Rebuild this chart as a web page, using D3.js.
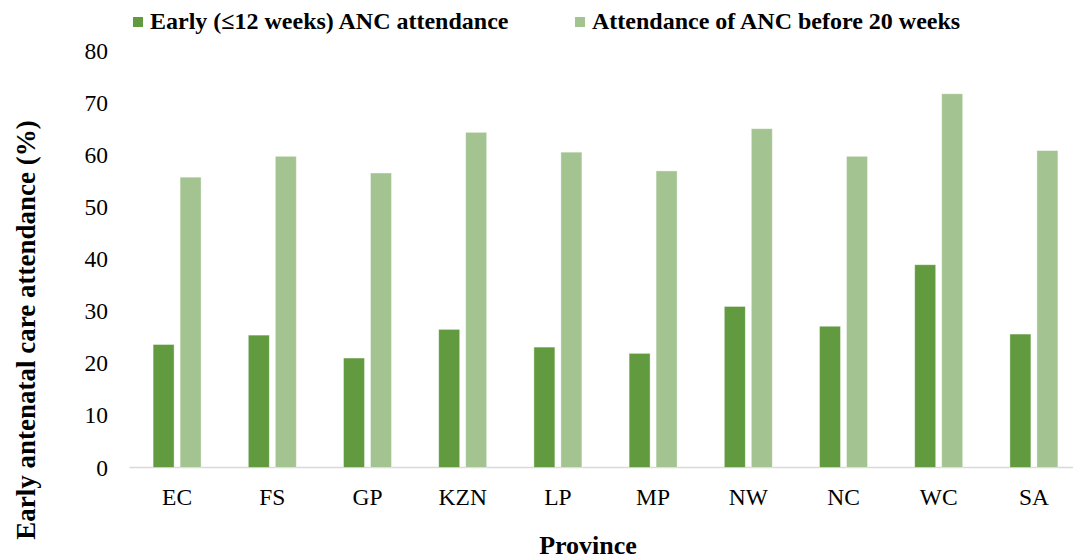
<!DOCTYPE html>
<html><head><meta charset="utf-8">
<script src="https://cdn.jsdelivr.net/npm/d3@7"></script>
<style>
body{margin:0;background:#fff;}
svg{display:block;font-family:"Liberation Serif","Times New Roman",serif;}
</style></head>
<body><svg id="c" width="1073" height="560"></svg>
<script>
const categories = ["EC","FS","GP","KZN","LP","MP","NW","NC","WC","SA"];
const seriesNames = ["Early (\u226412 weeks) ANC attendance","Attendance of ANC before 20 weeks"];
const early = [23.6,25.4,21.0,26.5,23.1,21.9,30.9,27.1,38.9,25.6];
const before20 = [55.7,59.7,56.5,64.3,60.5,56.9,65.0,59.7,71.7,60.8];
const yTicks = [0,10,20,30,40,50,60,70,80];
const colors = ["#629a3f","#a3c490"];

const svg = d3.select("#c");
const y = d3.scaleLinear().domain([0,80]).range([467.5,50.5]);
const x0 = d3.scaleBand().domain(categories).range([129.5,1081.5]);
const x1 = d3.scaleBand().domain([0,1]).range([0,48]).paddingInner(0.222);

const data = categories.map((c,i)=>({cat:c, vals:[early[i],before20[i]]}));

// axis line
svg.append("line").attr("x1",129.5).attr("x2",1081.5).attr("y1",y(0)).attr("y2",y(0))
  .attr("stroke","#d9d9d9").attr("stroke-width",1.5);

const g = svg.append("g");
data.forEach(d=>{
  const cx = x0(d.cat) + x0.bandwidth()/2 - 24;
  d.vals.forEach((v,j)=>{
    g.append("rect")
      .attr("x", cx + x1(j))
      .attr("y", y(v))
      .attr("width", x1.bandwidth())
      .attr("height", y(0)-y(v))
      .attr("fill", colors[j])
      .attr("stroke","#ffffff").attr("stroke-opacity",0.5).attr("stroke-width",0.8);
  });
});

// y axis labels
const yAxis = d3.axisLeft(y).tickValues(yTicks).tickSize(0).tickPadding(0);
const ya = svg.append("g").attr("transform","translate(108,0)").call(yAxis);
ya.select(".domain").remove();
ya.selectAll("text").attr("font-size",23.5).attr("fill","#000").attr("font-family","Liberation Serif");

// x axis labels
const xAxis = d3.axisBottom(x0).tickSize(0).tickPadding(0);
const xa = svg.append("g").attr("transform","translate(0,488)").call(xAxis);
xa.select(".domain").remove();
xa.selectAll("text").attr("font-size",23.5).attr("fill","#000").attr("font-family","Liberation Serif");

// axis titles
svg.append("text").attr("x",588).attr("y",554).attr("text-anchor","middle")
  .attr("font-size",26).attr("font-weight","bold").text("Province");
svg.append("text").attr("transform","translate(35,330) rotate(-90)").attr("text-anchor","middle")
  .attr("font-size",27).attr("font-weight","bold").text("Early antenatal care attendance (%)");

// legend
const legX = [133,575];
seriesNames.forEach((s,i)=>{
  svg.append("rect").attr("x",legX[i]).attr("y",17).attr("width",10).attr("height",10).attr("fill",colors[i]);
  svg.append("text").attr("x",legX[i]+17).attr("y",28.5).attr("font-size",24).attr("font-weight","bold").text(s);
});
</script></body></html>
